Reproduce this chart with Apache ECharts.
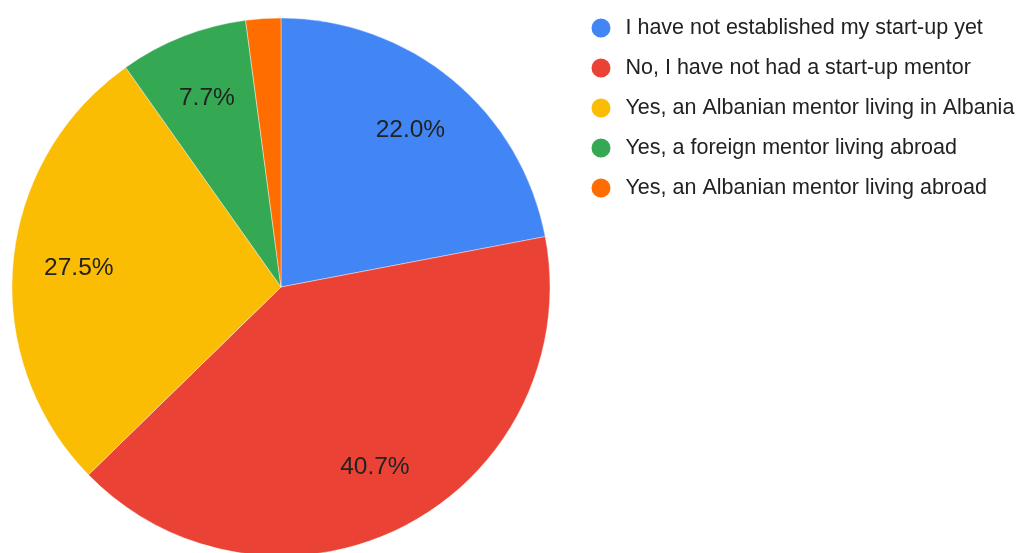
<!DOCTYPE html>
<html>
<head>
<meta charset="utf-8">
<script src="https://cdn.jsdelivr.net/npm/echarts@6/dist/echarts.min.js"></script>
<style>
html,body{margin:0;padding:0;background:#fff;}
#chart{width:1019px;height:553px;}
</style>
</head>
<body>
<div id="chart"></div>
<script>
var categories = [
  "I have not established my start-up yet",
  "No, I have not had a start-up mentor",
  "Yes, an Albanian mentor living in Albania",
  "Yes, a foreign mentor living abroad",
  "Yes, an Albanian mentor living abroad"
];
var values = [22.0, 40.7, 27.5, 7.7, 2.1];
var colors = ["#4285f4", "#ea4335", "#fbbc04", "#34a853", "#ff6d01"];
var minLabelShare = 5;

var chart = echarts.init(document.getElementById('chart'));
var pieData = categories.map(function (c, i) {
  return { name: c, value: values[i], itemStyle: { color: colors[i] } };
});
var labelData = categories.map(function (c, i) {
  return {
    name: c, value: values[i],
    label: { show: values[i] >= minLabelShare }
  };
});
chart.setOption({
  animation: false,
  legend: {
    orient: 'vertical',
    left: 589.5,
    top: 16.5,
    padding: 0,
    icon: 'circle',
    itemWidth: 21,
    itemHeight: 21,
    itemGap: 17,
    data: categories,
    selectedMode: false,
    textStyle: {
      fontFamily: 'Liberation Sans, Arial, sans-serif',
      fontSize: 21.5,
      color: '#222',
      padding: [0, 0, 0, 9],
      lineHeight: 21
    }
  },
  series: [
    {
      type: 'pie',
      center: [281, 287],
      radius: [0, 269],
      startAngle: 90,
      clockwise: true,
      data: pieData,
      label: { show: false },
      labelLine: { show: false },
      itemStyle: { borderColor: '#fff', borderWidth: 0.4 },
      emphasis: { disabled: true }
    },
    {
      type: 'pie',
      center: [281, 287],
      radius: [131, 269],
      startAngle: 90,
      clockwise: true,
      silent: true,
      data: labelData,
      itemStyle: { color: 'rgba(0,0,0,0)' },
      label: {
        position: 'inside',
        fontFamily: 'Liberation Sans, Arial, sans-serif',
        fontSize: 24.5,
        color: '#222',
        formatter: function (p) { return p.value.toFixed(1) + '%'; }
      },
      labelLine: { show: false },
      emphasis: { disabled: true }
    }
  ]
});
</script>
</body>
</html>
